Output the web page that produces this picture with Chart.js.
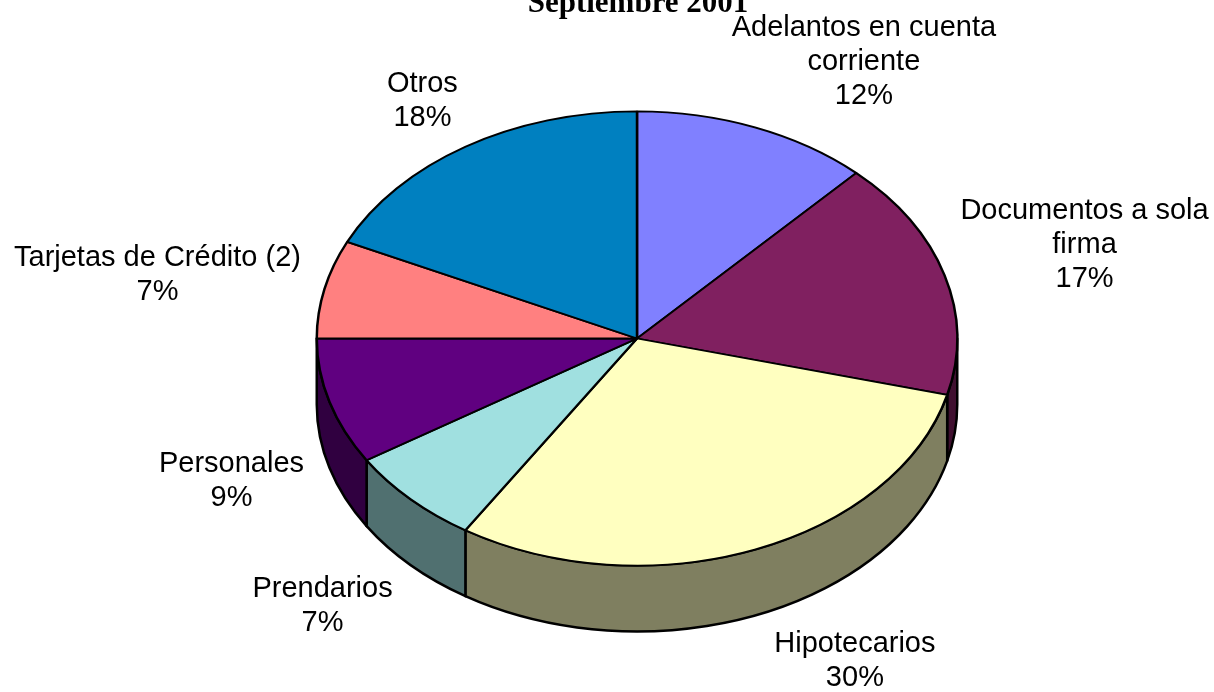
<!DOCTYPE html>
<html>
<head>
<meta charset="utf-8">
<script src="https://cdn.jsdelivr.net/npm/chart.js@4/dist/chart.umd.min.js"></script>
<style>
  html, body { margin: 0; padding: 0; background: #fff; }
  canvas { display: block; }
</style>
</head>
<body>
<canvas id="chart" width="1214" height="692"></canvas>
<script>
const title = 'Septiembre 2001';
const categories = [
    'Adelantos en cuenta corriente',
    'Documentos a sola firma',
    'Hipotecarios',
    'Prendarios',
    'Personales',
    'Tarjetas de Crédito (2)',
    'Otros'
];
const shares = [12, 17, 30, 7, 9, 7, 18];
const topColors = ['#8080ff', '#802060', '#ffffc0', '#a0e0e0', '#600080', '#ff8080', '#0080c0'];

// label offset (px) from the rim point at the middle of each slice
const labelNudge = [[109, -65], [140, -30], [100, 45], [-88, 41], [-98, 13], [-167, -14], [-43, -46]];

const TILT = 0.709;   // ellipse ry / rx
const DEPTH = 0.206;  // side wall height / rx

// side walls are the top colour at half brightness
const darker = hex => {
    const n = parseInt(hex.slice(1), 16);
    return `rgb(${(n >> 16) >> 1},${((n >> 8) & 255) >> 1},${(n & 255) >> 1})`;
};

const wrap = (ctx, text, maxWidth) => {
    const lines = [];
    let line = '';
    text.split(' ').forEach(word => {
        const test = line ? line + ' ' + word : word;
        if (line && ctx.measureText(test).width > maxWidth) {
            lines.push(line);
            line = word;
        } else {
            line = test;
        }
    });
    lines.push(line);
    return lines;
};

const pie3d = {
    id: 'pie3d',
    beforeDatasetsDraw(chart) {
        const ctx = chart.ctx;
        const arcs = chart.getDatasetMeta(0).data;
        const {x: cx, y: cy, outerRadius: rx} = arcs[0];
        const ry = rx * TILT, depth = rx * DEPTH;

        ctx.save();
        ctx.lineWidth = 2.5;
        ctx.strokeStyle = '#000';
        ctx.lineJoin = 'round';
        arcs.forEach((arc, i) => {
            // only the front half (0..PI) of the wall can be seen
            const a1 = Math.max(arc.startAngle, 0);
            const a2 = Math.min(arc.endAngle, Math.PI);
            if (a2 <= a1) return;
            ctx.beginPath();
            ctx.ellipse(cx, cy, rx, ry, 0, a1, a2);
            ctx.ellipse(cx, cy + depth, rx, ry, 0, a2, a1, true);
            ctx.closePath();
            ctx.fillStyle = darker(topColors[i]);
            ctx.fill();
            ctx.stroke();
        });

        // squash the pie top into an ellipse
        ctx.translate(cx, cy);
        ctx.scale(1, TILT);
        ctx.translate(-cx, -cy);
    },
    afterDatasetsDraw(chart) {
        chart.ctx.restore();
    },
    afterDraw(chart) {
        const ctx = chart.ctx;
        const arcs = chart.getDatasetMeta(0).data;
        const {x: cx, y: cy, outerRadius: rx} = arcs[0];
        const ry = rx * TILT, depth = rx * DEPTH;

        ctx.save();
        ctx.fillStyle = '#000';
        ctx.textAlign = 'center';
        ctx.textBaseline = 'middle';
        ctx.font = '29px "Liberation Sans", Arial, sans-serif';
        arcs.forEach((arc, i) => {
            const mid = (arc.startAngle + arc.endAngle) / 2;
            let x = cx + rx * Math.cos(mid);
            let y = cy + ry * Math.sin(mid);
            if (Math.sin(mid) > 0) y += depth;
            x += labelNudge[i][0];
            y += labelNudge[i][1];
            const lines = wrap(ctx, categories[i], 305).concat(shares[i] + '%');
            lines.forEach((t, j) => ctx.fillText(t, x, y + (j - (lines.length - 1) / 2) * 34));
        });

        ctx.textBaseline = 'alphabetic';
        ctx.font = 'bold 31px "Liberation Serif", "Times New Roman", serif';
        ctx.fillText(title, 638, 12);
        ctx.restore();
    }
};

const ctx = document.getElementById('chart').getContext('2d');
const chart = new Chart(ctx, {
    type: 'pie',
    data: {
        labels: categories,
        datasets: [
            {
                data: shares,
                backgroundColor: topColors,
                borderColor: '#000',
                borderWidth: 2.5,
                hoverBorderWidth: 2.5,
                hoverOffset: 0,
                offset: 0
            }
        ]
    },
    options: {
        responsive: false,
        animation: false,
        events: [],
        layout: {
            padding: {left: 60, right: 0, top: 17, bottom: 32}
        },
        plugins: {
            legend: {display: false},
            tooltip: {enabled: false}
        }
    },
    plugins: [pie3d]
});
</script>
</body>
</html>
